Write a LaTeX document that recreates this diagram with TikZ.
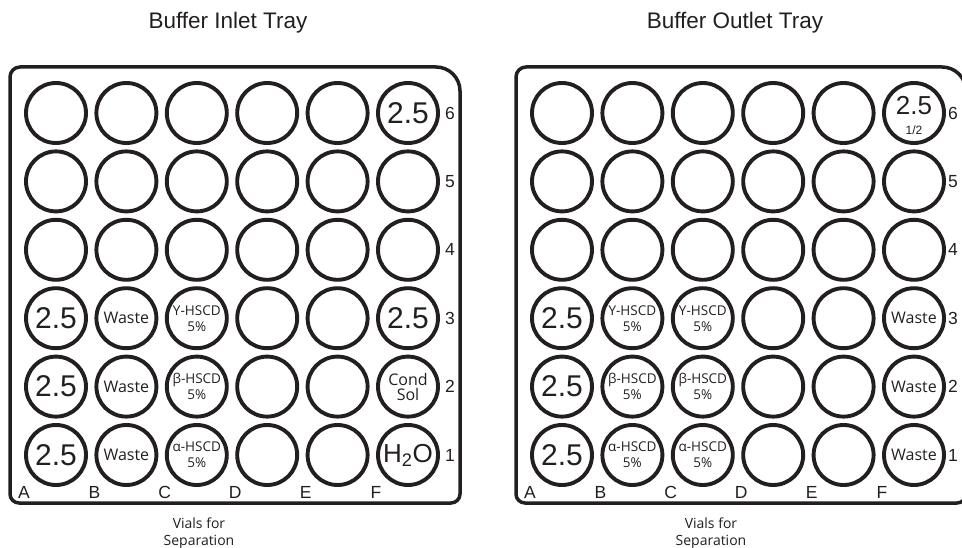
\documentclass[tikz,border=0pt]{standalone}
\usepackage{fontspec}
\setmainfont{Liberation Sans}
\newfontfamily\humanist{Open Sans}
\usetikzlibrary{positioning}
\definecolor{ink}{RGB}{35,31,32}
\newcommand{\TitleFont}{\fontsize{22.5}{26}\selectfont}
\newcommand{\IdxFont}{\fontsize{17.5}{20}\selectfont}
\newcommand{\BigFont}{\fontsize{30}{32}\selectfont}
\newcommand{\WasteFont}{\humanist\fontsize{16}{18}\selectfont}
\newcommand{\ReagentFont}{\humanist\fontsize{13.5}{16}\selectfont}
\newcommand{\CondFont}{\humanist\fontsize{16}{15}\selectfont}
\newcommand{\NoteFont}{\humanist\fontsize{14}{17}\selectfont}
\tikzset{
  tray/.style={draw=ink, line width=3.5pt},
  well/.style={circle, draw=ink, line width=3.9pt, minimum size=60pt, inner sep=0pt},
  idx/.style={text=ink, font=\IdxFont, inner sep=0pt},
  big/.style={text=ink, font=\BigFont, inner sep=0pt},
  waste/.style={text=ink, font=\WasteFont, inner sep=0pt},
  reagent/.style={text=ink, font=\ReagentFont, align=center, inner sep=0pt},
  title/.style={text=ink, font=\TitleFont, inner sep=0pt},
  note/.style={text=ink, font=\NoteFont, align=center, inner sep=0pt}
}

\begin{document}
\begin{tikzpicture}[x=1pt, y=-1pt]
  \useasboundingbox (0,0) rectangle (962,548);
  % the two trays, wells named <tray>-<column>-<row>
  \foreach \t/\dx/\w/\rx in {in/0/450/450, out/506/450/953} {
    \draw[tray] ({10+\dx},280) [rounded corners=10] -- ({10+\dx},67) [rounded corners=24] -- ({10+\dx+\w},67) [rounded corners=9] -- ({10+\dx+\w},503) -- ({10+\dx},503) -- cycle;
    \foreach \c/\l in {1/A, 2/B, 3/C, 4/D, 5/E, 6/F} {
      \foreach \r in {1,...,6}
        \node[well] (\t-\c-\r) at ({56+\dx+70.4*(\c-1)}, {455-68.4*(\r-1)}) {};
      \node[idx] (\t-col-\l) at ({24+\dx+70.4*(\c-1)}, 492) {\l};
    }
    \foreach \r in {1,...,6}
      \node[idx] (\t-row-\r) at (\rx, {455-68.4*(\r-1)}) {\r};
  }
  \node[title] (in-title) at (228,23) {Buffer Inlet Tray};
  \node[title] (out-title) at (735,23) {Buffer Outlet Tray};
  \node[note] (in-note) at (199,533) {Vials for\\Separation};
  \node[note] (out-note) at (711,533) {Vials for\\Separation};
  % inlet tray contents
  \node[big] at (in-1-1) {2.5};
  \node[big] at (in-1-2) {2.5};
  \node[big] at (in-1-3) {2.5};
  \node[waste] at (in-2-1) {Waste};
  \node[waste] at (in-2-2) {Waste};
  \node[waste] at (in-2-3) {Waste};
  \node[reagent] at (in-3-3) {Y-HSCD\\5\%};
  \node[reagent] at (in-3-2) {β-HSCD\\5\%};
  \node[reagent] at (in-3-1) {α-HSCD\\5\%};
  \node[big] at (in-6-6) {2.5};
  \node[big] at (in-6-3) {2.5};
  \node[text=ink, font=\CondFont, align=center, inner sep=0pt] at (in-6-2) {Cond\\Sol};
  \node[big, font=\fontsize{26}{28}\selectfont] at (in-6-1) {H\textsubscript{2}O};
  % outlet tray contents
  \node[big] at (out-1-1) {2.5};
  \node[big] at (out-1-2) {2.5};
  \node[big] at (out-1-3) {2.5};
  \foreach \c in {2,3} {
    \node[reagent] at (out-\c-3) {Y-HSCD\\5\%};
    \node[reagent] at (out-\c-2) {β-HSCD\\5\%};
    \node[reagent] at (out-\c-1) {α-HSCD\\5\%};
  }
  \node[waste] at (out-6-3) {Waste};
  \node[waste] at (out-6-2) {Waste};
  \node[waste] at (out-6-1) {Waste};
  \node[big, font=\fontsize{26}{28}\selectfont] (out-half) at ([yshift=7pt]out-6-6) {2.5};
  \node[text=ink, font=\fontsize{12}{13}\selectfont, inner sep=0pt] (out-half-note) at ([yshift=-17pt]out-6-6) {1/2};
\end{tikzpicture}
\end{document}
